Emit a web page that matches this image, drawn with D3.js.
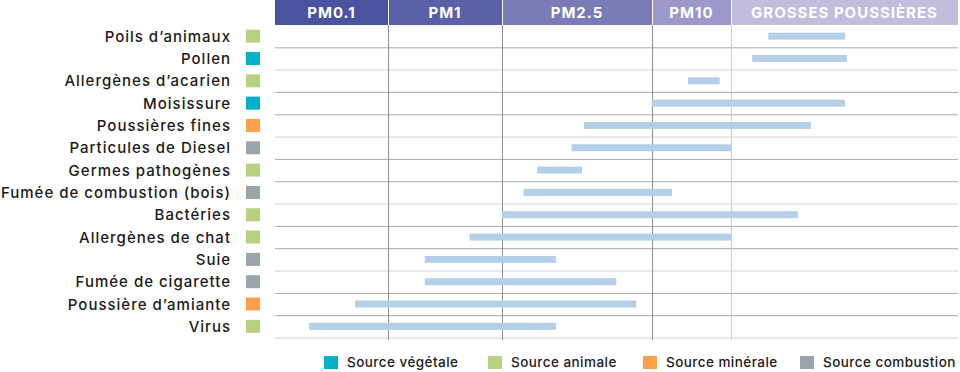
<!DOCTYPE html>
<html>
<head>
<meta charset="utf-8">
<script src="https://cdn.jsdelivr.net/npm/d3@7"></script>
<style>
  body { margin: 0; background: #fff; }
  svg { display: block; font-family: Inter, "DejaVu Sans", sans-serif; }
</style>
</head>
<body>
<svg id="chart" width="960" height="372"></svg>
<script>
// particle size classes (µm boundaries) shown in the header
const bandNames = ["PM0.1", "PM1", "PM2.5", "PM10", "GROSSES POUSSIÈRES"];
const bandEdges = [0.01, 0.1, 1, 2.5, 10, 100];
const bandColors = ["#4a53a0", "#5a61a9", "#7a7cb8", "#9b99cb", "#c1bddd"];

// pollutants, top to bottom
const labels = [
  "Poils d’animaux", "Pollen", "Allergènes d’acarien", "Moisissure",
  "Poussières fines", "Particules de Diesel", "Germes pathogènes",
  "Fumée de combustion (bois)", "Bactéries", "Allergènes de chat",
  "Suie", "Fumée de cigarette", "Poussière d’amiante", "Virus",
];
const sources = [
  "animale", "vegetale", "animale", "vegetale", "minerale", "combustion",
  "animale", "combustion", "animale", "animale", "combustion", "combustion",
  "minerale", "animale",
];
// size range in µm
const sizeMin = [14.6, 12.4, 4.7, 2.5, 1.65, 1.53, 1.24, 1.14, 1.0, 0.52, 0.21, 0.21, 0.051, 0.020];
const sizeMax = [31.8, 32.4, 8.2, 31.8, 22.5, 10, 1.63, 3.55, 19.7, 10, 1.39, 2.01, 2.27, 1.39];

const legendKeys = ["vegetale", "animale", "minerale", "combustion"];
const legendLabels = ["Source végétale", "Source animale", "Source minérale", "Source combustion"];
const sourceColors = { vegetale: "#00b1c9", animale: "#b6d27f", minerale: "#fca04a", combustion: "#9aa4ad" };

const svg = d3.select("#chart");

const x = d3.scaleLog().domain(bandEdges).range([275, 388, 502, 652, 731, 958]);
const y = d3.scaleBand().domain(labels).range([25, 337.5]);
const headerH = 25;

// header bands
const head = svg.append("g");
bandNames.forEach((name, i) => {
  const x0 = x(bandEdges[i]);
  const x1 = x(bandEdges[i + 1]);
  head.append("rect")
    .attr("x", x0 + (i ? 1 : 0))
    .attr("y", 0)
    .attr("width", x1 - x0 - (i ? 1 : 0))
    .attr("height", headerH)
    .attr("fill", bandColors[i]);
  head.append("text")
    .attr("x", (x0 + x1) / 2)
    .attr("y", 18)
    .attr("text-anchor", "middle")
    .attr("fill", "#fff")
    .attr("font-weight", 700)
    .attr("font-size", 15)
    .attr("letter-spacing", 1)
    .text(name);
});

// row separators
svg.append("g")
  .selectAll("line")
  .data(labels)
  .join("line")
  .attr("x1", x(0.01))
  .attr("x2", x(100))
  .attr("y1", (d) => y(d) + y.bandwidth() + 0.5)
  .attr("y2", (d) => y(d) + y.bandwidth() + 0.5)
  .attr("stroke", (d, i) => (i % 3 === 1 ? "#d4d4d4" : "#a8a8a8"))
  .attr("stroke-width", 1);

// vertical class boundaries
svg.append("g")
  .selectAll("line")
  .data(bandEdges.slice(1, -1))
  .join("line")
  .attr("x1", (d) => Math.round(x(d)) + 0.5)
  .attr("x2", (d) => Math.round(x(d)) + 0.5)
  .attr("y1", headerH)
  .attr("y2", 340)
  .attr("stroke", (d) => (d === 10 ? "#cfcfcf" : "#8f8f8f"));

// range bars
svg.append("g")
  .selectAll("rect")
  .data(labels)
  .join("rect")
  .attr("x", (d, i) => x(sizeMin[i]))
  .attr("width", (d, i) => x(sizeMax[i]) - x(sizeMin[i]))
  .attr("y", (d) => y(d) + y.bandwidth() / 2 - 3.5)
  .attr("height", 7)
  .attr("fill", "#b3d0e8");

// row labels + source swatches
const rowLabels = svg.append("g");
rowLabels.selectAll("text")
  .data(labels)
  .join("text")
  .attr("x", 231)
  .attr("y", (d) => y(d) + y.bandwidth() / 2 + 5.5)
  .attr("text-anchor", "end")
  .attr("font-size", 15)
  .attr("font-weight", 500)
  .attr("letter-spacing", 1)
  .attr("fill", "#1a1a1a")
  .text((d) => d);
rowLabels.selectAll("rect")
  .data(labels)
  .join("rect")
  .attr("x", 246)
  .attr("y", (d) => y(d) + y.bandwidth() / 2 - 6.5)
  .attr("width", 14)
  .attr("height", 13)
  .attr("fill", (d, i) => sourceColors[sources[i]]);

// legend
const legendX = [324, 488, 643, 800];
const legend = svg.append("g")
  .selectAll("g")
  .data(legendKeys)
  .join("g")
  .attr("transform", (d, i) => `translate(${legendX[i]},356)`);
legend.append("rect")
  .attr("width", 14)
  .attr("height", 13)
  .attr("fill", (d) => sourceColors[d]);
legend.append("text")
  .attr("x", 23)
  .attr("y", 11)
  .attr("font-size", 13.5)
  .attr("font-weight", 500)
  .attr("letter-spacing", 0.45)
  .attr("fill", "#1a1a1a")
  .text((d, i) => legendLabels[i]);
</script>
</body>
</html>
